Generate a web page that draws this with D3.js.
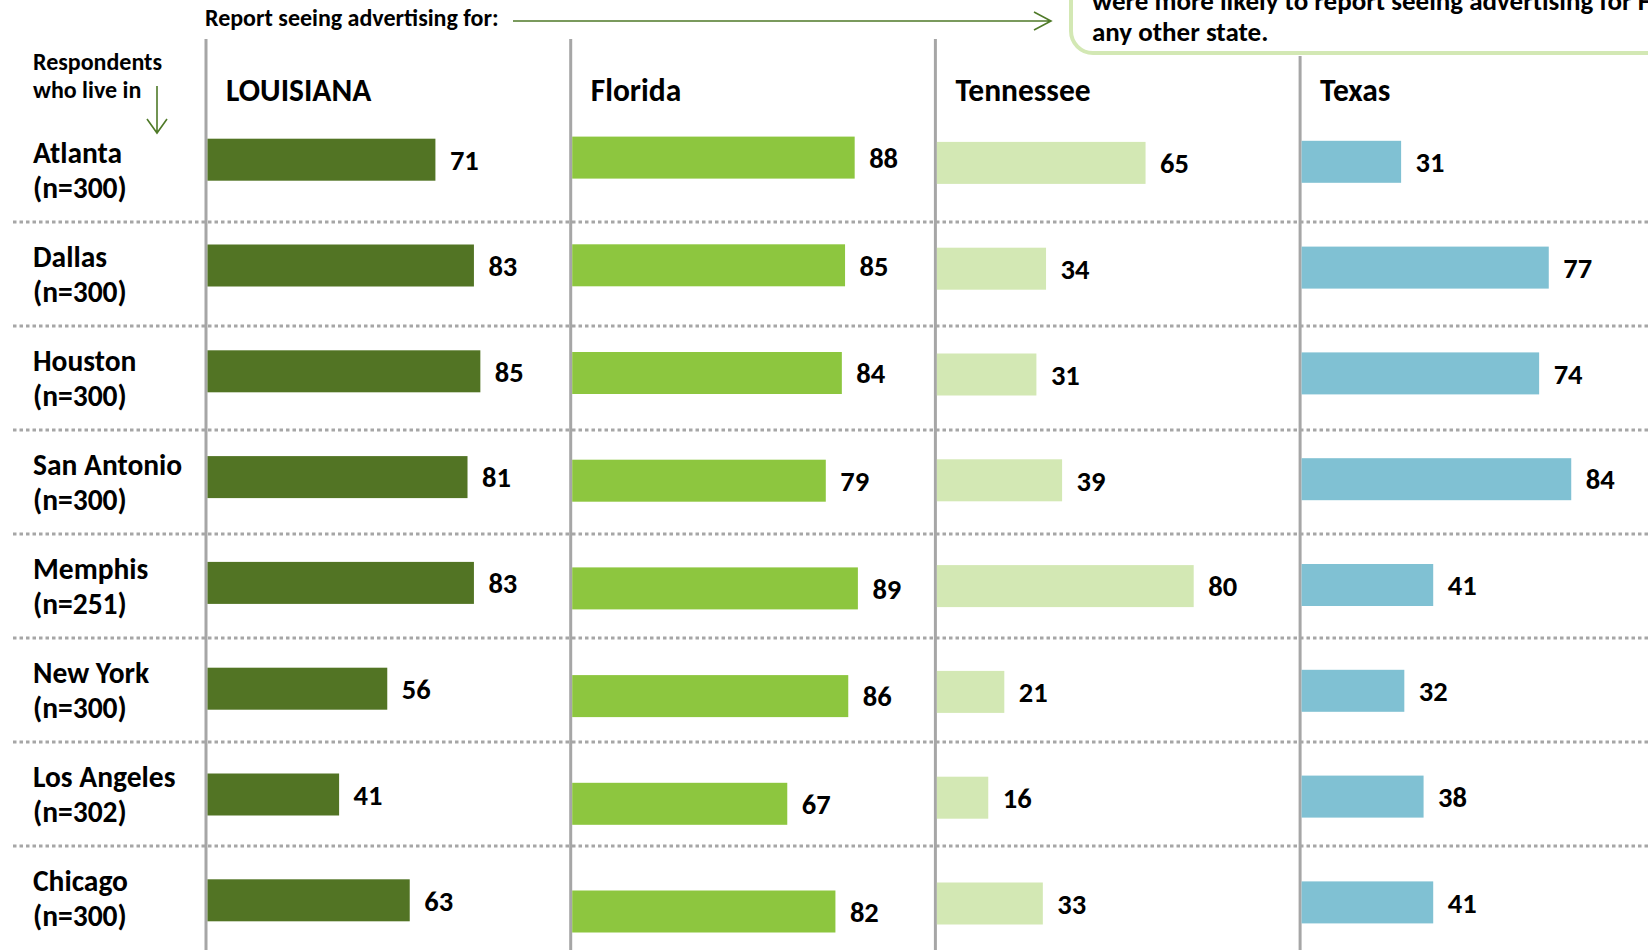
<!DOCTYPE html>
<html>
<head>
<meta charset="utf-8">
<script src="https://cdn.jsdelivr.net/npm/d3@7"></script>
<style>
  body { margin: 0; background: #fff; overflow: hidden; }
  svg { display: block; font-family: Carlito, Calibri, "Open Sans", sans-serif; font-weight: bold; }
</style>
</head>
<body>
<div class="demoWrapper"></div>
<script>
"use strict";

// data
var cities = ["Atlanta", "Dallas", "Houston", "San Antonio", "Memphis", "New York", "Los Angeles", "Chicago"];
var sampleSizes = [300, 300, 300, 300, 251, 300, 302, 300];
var states = ["LOUISIANA", "Florida", "Tennessee", "Texas"];
var louisiana = [71, 83, 85, 81, 83, 56, 41, 63];
var florida = [88, 85, 84, 79, 89, 86, 67, 82];
var tennessee = [65, 34, 31, 39, 80, 21, 16, 33];
var texas = [31, 77, 74, 84, 41, 32, 38, 41];
var seriesValues = [louisiana, florida, tennessee, texas];

// layout / style
var width = 1648;
var height = 950;
var colors = ["#527424", "#8dc63f", "#d3e8b4", "#80c1d3"];
var colLeft = 206;
var colStep = 364.7;
var barHeight = 42;
var rowTop = [138.7, 136.6, 141.9, 140.8];
var rowStep = [105.8, 107.7, 105.8, 105.8];
var gridTop = 222;
var gridStep = 104;

var x = d3.scaleLinear().domain([0, 100]).range([0, 321]);
var colX = d3.scaleLinear().domain([0, 1]).range([colLeft, colLeft + colStep]);
var rowY = d3.scaleLinear().domain([0, 1]).range([gridTop - gridStep, gridTop]);

var svg = d3.select(".demoWrapper").append("svg")
  .attr("width", width).attr("height", height)
  .attr("viewBox", "0 0 " + width + " " + height);

// callout box (runs off the top and right edge)
svg.append("rect")
  .attr("x", 1071).attr("y", -80)
  .attr("width", 700).attr("height", 133)
  .attr("rx", 22)
  .attr("fill", "#fff")
  .attr("stroke", "#d3e8b4")
  .attr("stroke-width", 4);
var callout = svg.append("text").attr("font-size", 27).attr("fill", "#000");
callout.append("tspan").attr("x", 1092).attr("y", 10).text("were more likely to report seeing advertising for Florida than");
callout.append("tspan").attr("x", 1092).attr("y", 41).text("any other state.");

// top label + arrow
svg.append("text")
  .attr("x", 205).attr("y", 26)
  .attr("font-size", 24)
  .text("Report seeing advertising for:");
var arrowColor = "#4f7a28";
svg.append("path")
  .attr("d", "M513,21H1050M1034,12L1051,21L1034,30")
  .attr("fill", "none").attr("stroke", arrowColor).attr("stroke-width", 1.6);

// row header label + arrow
var resp = svg.append("text").attr("font-size", 24);
resp.append("tspan").attr("x", 33).attr("y", 70).text("Respondents");
resp.append("tspan").attr("x", 33).attr("y", 98).text("who live in");
svg.append("path")
  .attr("d", "M157,86V132M147,119L157,133L167,119")
  .attr("fill", "none").attr("stroke", arrowColor).attr("stroke-width", 1.6);

// dotted separators
svg.selectAll(".sep")
  .data(cities.slice(1))
  .enter().append("line")
  .attr("class", "sep")
  .attr("x1", 13).attr("x2", width)
  .attr("y1", function (d, i) { return rowY(i + 1); })
  .attr("y2", function (d, i) { return rowY(i + 1); })
  .attr("stroke", "#a6a6a6")
  .attr("stroke-width", 3)
  .attr("stroke-dasharray", "3.5,3");

// city labels
var cityLabels = svg.selectAll(".city")
  .data(cities)
  .enter().append("text")
  .attr("class", "city")
  .attr("font-size", 29.5);
cityLabels.append("tspan")
  .attr("x", 33)
  .attr("y", function (d, i) { return rowY(i) + 45; })
  .text(function (d) { return d; });
cityLabels.append("tspan")
  .attr("x", 33)
  .attr("y", function (d, i) { return rowY(i) + 80; })
  .text(function (d, i) { return "(n=" + sampleSizes[i] + ")"; });

// columns
var cols = svg.selectAll(".col")
  .data(states)
  .enter().append("g")
  .attr("class", "col")
  .attr("transform", function (d, i) { return "translate(" + colX(i) + ",0)"; });

cols.append("line")
  .attr("x1", 0).attr("x2", 0)
  .attr("y1", function (d, i) { return i === 3 ? 56 : 39; })
  .attr("y2", height)
  .attr("stroke", "#a6a6a6")
  .attr("stroke-width", 3);

cols.append("text")
  .attr("x", 20).attr("y", 101)
  .attr("font-size", 31.5)
  .text(function (d) { return d; });

cols.each(function (state, c) {
  var g = d3.select(this);
  var p = 1 - barHeight / rowStep[c];
  var y = d3.scaleBand()
    .domain(cities)
    .range([rowTop[c], rowTop[c] + (cities.length - p) * rowStep[c]])
    .paddingInner(p).paddingOuter(0);
  var vals = seriesValues[c];

  g.selectAll(".bar")
    .data(cities)
    .enter().append("rect")
    .attr("class", "bar")
    .attr("x", 1.5)
    .attr("y", function (d) { return y(d); })
    .attr("width", function (d, i) { return x(vals[i]); })
    .attr("height", y.bandwidth())
    .attr("fill", colors[c]);

  g.selectAll(".val")
    .data(cities)
    .enter().append("text")
    .attr("class", "val")
    .attr("x", function (d, i) { return x(vals[i]) + 16; })
    .attr("y", function (d) { return y(d) + y.bandwidth() / 2; })
    .attr("dy", "0.36em")
    .attr("font-size", 28.5)
    .text(function (d, i) { return vals[i]; });
});
</script>
</body>
</html>
